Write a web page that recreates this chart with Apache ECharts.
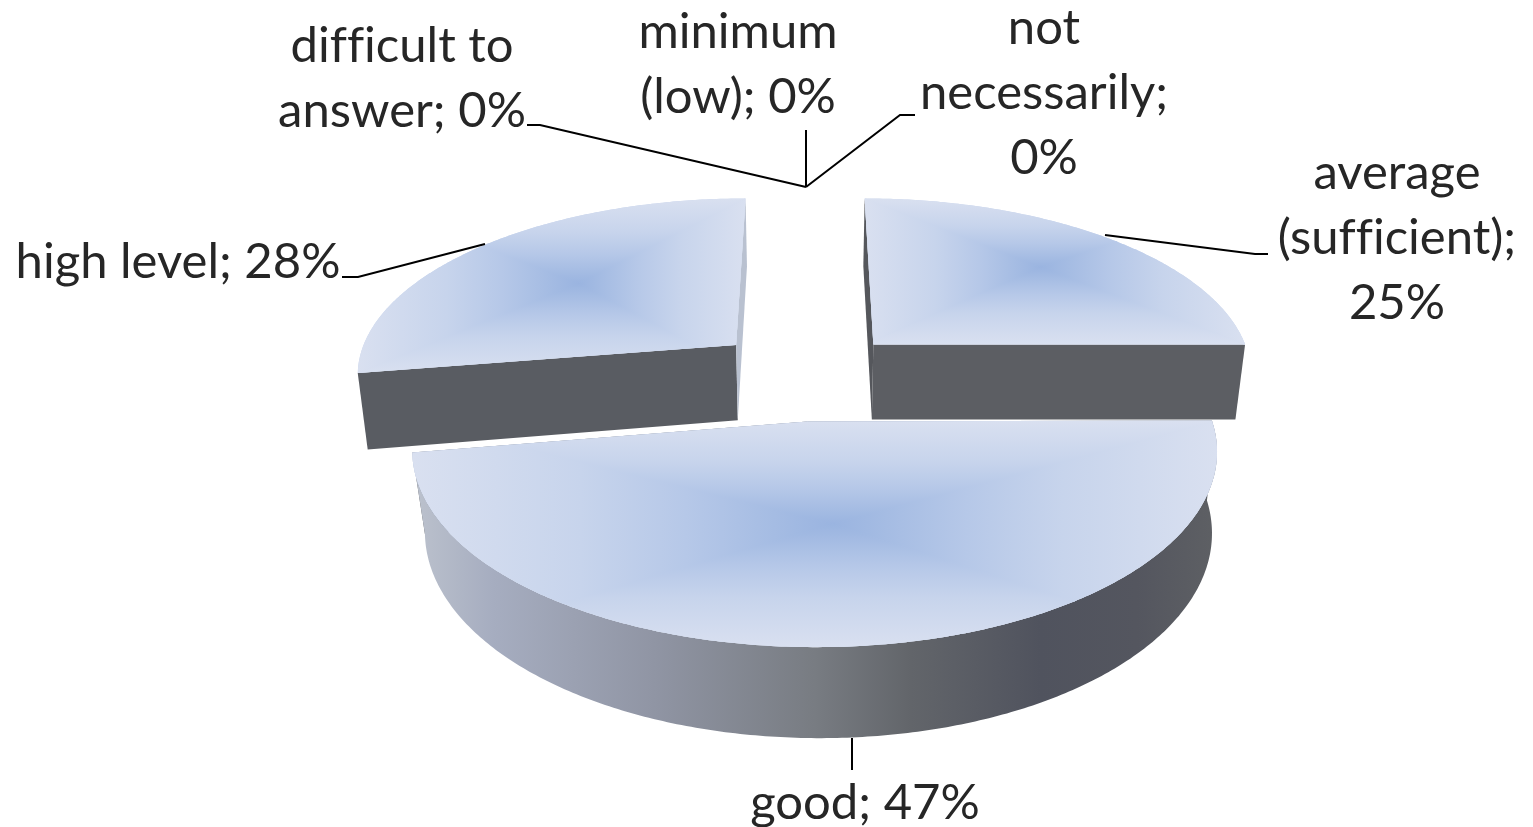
<!DOCTYPE html>
<html>
<head>
<meta charset="utf-8">
<style>html,body{margin:0;padding:0;background:#fff}#c{width:1533px;height:827px}</style>
<script src="https://cdn.jsdelivr.net/npm/echarts@6/dist/echarts.min.js"></script>
</head>
<body>
<div id="c"></div>
<script>
// ---- data (clockwise from 12 o'clock) ----
const categories = ['average\n(sufficient)', 'good', 'high level', 'difficult to\nanswer', 'minimum\n(low)', 'not\nnecessarily'];
const values = [25, 47.4, 27.6, 0, 0, 0];

// ---- layout & style (not data) ----
const drawOrder = [0, 2, 1, 3, 4, 5];
const labelSep = ['\n', ' ', ' ', ' ', ' ', '\n'];
const labelPos = [[1397, 238], [865, 803], [178, 262], [402, 79], [738, 65], [1044, 93]];
const leaders = [
  [[1105, 235], [1255, 254], [1268, 254]],
  [[852, 738], [852, 770]],
  [[485, 244], [358, 277], [342, 277]],
  [[527, 125], [540, 125], [806, 187]],
  [[806, 130], [806, 187]],
  [[915, 115], [900, 115], [806, 187]]
];
const view = {x0: 805, y0: 374, a: 382, b: 176.6, k: 0.15, depth: 76.6, depthPow: 0.77, shrink: 0.978, explode: 0.26};
const sliceNudge = [[0, 2], [1, -1], [5, 0]];
const apexNudge = [[0, 0], [-7, 1], [0, 0]];
const lowNudge = [[0, 0], [4, 1], [0, 0]];
const gradR = [0.7, 0.5, 0.6];
const startFace = ['#55575c', '#55575c', '#595c62'];
const endFace = ['#5c5e63', '#55575c', '#b9c1d0'];
const topStops = [[0, '#9ab4e0'], [0.14, '#a5bce3'], [0.35, '#b6c8e8'], [0.6, '#c7d4ec'], [1, '#d9e0f0']];
const wallStops = [[0, '#bcc2cd'], [0.1, '#a6adc0'], [0.3, '#9095a4'], [0.5, '#787c82'], [0.62, '#62656a'], [0.78, '#50535e'], [0.9, '#54565f'], [1, '#5e6064']];
const textFont = 'Lato';
const textSize = 49;
const textLine = 65;

// the reference has no f-ligatures: keep glyphs separate in canvas text
const nativeGetContext = HTMLCanvasElement.prototype.getContext;
HTMLCanvasElement.prototype.getContext = function (type, opts) {
  const ctx = nativeGetContext.call(this, type, opts);
  if (type === '2d' && ctx && 'textRendering' in ctx) ctx.textRendering = 'optimizeSpeed';
  return ctx;
};

const total = values.reduce((s, v) => s + v, 0);
const starts = values.map((v, i) => values.slice(0, i).reduce((s, w) => s + w, 0) / total * 2 * Math.PI);

function project(px, pz, lower, nudge) {
  const s = 1 / (1 + view.k * pz);
  const c = lower ? view.shrink : 1;
  return [
    view.x0 + view.a * px * s * c + nudge[0],
    view.y0 - view.b * pz * s + (lower ? view.depth * Math.pow(s, view.depthPow) : 0) + nudge[1]
  ];
}
function gradient(p0, p1, stops) {
  return {type: 'linear', global: true, x: p0[0], y: p0[1], x2: p1[0], y2: p1[1],
    colorStops: stops.map(s => ({offset: s[0], color: s[1]}))};
}

function renderItem(params, api) {
  const i = api.value(0);
  const val = api.value(1);
  const children = [];
  if (val > 0) {
    const a0 = starts[i], a1 = a0 + val / total * 2 * Math.PI, mid = (a0 + a1) / 2;
    const off = [view.explode * Math.sin(mid), view.explode * Math.cos(mid)];
    const nudge = sliceNudge[i];
    const nudgeL = [nudge[0] + lowNudge[i][0], nudge[1] + lowNudge[i][1]];
    const wheel = (th, r, lower) => project(off[0] + r * Math.sin(th), off[1] + r * Math.cos(th), lower, lower ? nudgeL : nudge);
    const n = Math.max(8, Math.round((a1 - a0) * 90));
    const topRim = [], lowRim = [];
    for (let j = 0; j <= n; j++) {
      const t = a0 + (a1 - a0) * j / n;
      topRim.push(wheel(t, 1, false));
      lowRim.push(wheel(t, 1, true));
    }
    const apexT = project(off[0], off[1], false, [nudge[0] + apexNudge[i][0], nudge[1] + apexNudge[i][1]]);
    const apexL = project(off[0], off[1], true, nudgeL);
    children.push({type: 'polygon', shape: {points: [topRim[0], apexT, apexL, lowRim[0]]}, style: {fill: startFace[i]}});
    children.push({type: 'polygon', shape: {points: [topRim[n], apexT, apexL, lowRim[n]]}, style: {fill: endFace[i]}});
    // the curved outer wall shows only on slices that lie wholly at the front
    if (Math.cos(a0) < 0.01 && Math.cos(a1) < 0.01) {
      const wallPts = topRim.concat(lowRim.slice().reverse());
      const wallXs = wallPts.map(p => p[0]);
      children.push({type: 'polygon', shape: {points: wallPts},
        style: {fill: gradient([Math.min(...wallXs), 0], [Math.max(...wallXs), 0], wallStops)}});
    }
    // top face: rectangular path gradient clipped to the slice outline
    const outline = [apexT].concat(topRim);
    const xs = outline.map(p => p[0]), ys = outline.map(p => p[1]);
    const x0 = Math.min(...xs), x1 = Math.max(...xs), y0 = Math.min(...ys), y1 = Math.max(...ys);
    const c = wheel(mid, gradR[i], false);
    const corners = [[x0, y0], [x1, y0], [x1, y1], [x0, y1]];
    const edgeMid = [[c[0], y0], [x1, c[1]], [c[0], y1], [x0, c[1]]];
    const tris = [{type: 'rect', shape: {x: x0, y: y0, width: x1 - x0, height: y1 - y0}, style: {fill: '#c7d4ec'}}];
    for (let q = 0; q < 4; q++) {
      const g = gradient(c, edgeMid[q], topStops);
      tris.push({type: 'polygon', shape: {points: [c, corners[q], corners[(q + 1) % 4]]},
        style: {fill: g, stroke: g, lineWidth: 1}});
    }
    children.push({type: 'group', children: tris, clipPath: {type: 'polygon', shape: {points: outline}}});
  }
  children.push({type: 'polyline', shape: {points: leaders[i]},
    style: {fill: null, stroke: '#000', lineWidth: 2}});
  children.push({type: 'text', style: {
    text: categories[i] + ';' + labelSep[i] + Math.round(val) + '%',
    x: labelPos[i][0], y: labelPos[i][1], align: 'center', verticalAlign: 'middle',
    fontFamily: textFont, fontSize: textSize, lineHeight: textLine, fill: '#262626'}});
  return {type: 'group', children};
}

const chart = echarts.init(document.getElementById('c'), null, {renderer: 'canvas'});
chart.setOption({
  animation: false,
  backgroundColor: '#fff',
  series: [{
    type: 'custom',
    coordinateSystem: 'none',
    renderItem,
    encode: {value: 1, itemName: 2},
    data: drawOrder.map(i => [i, values[i], categories[i]])
  }]
});
</script>
</body>
</html>
